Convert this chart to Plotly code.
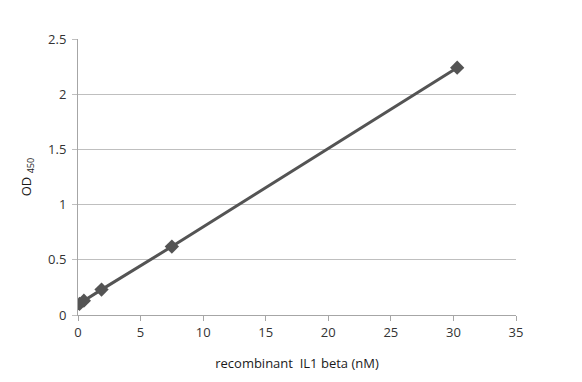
import plotly.graph_objects as go

conc_nM = [0.12, 0.47, 1.88, 7.5, 30.3]
od450 = [0.10, 0.13, 0.23, 0.62, 2.24]
x_ticks = [0, 5, 10, 15, 20, 25, 30, 35]
y_ticks = [0, 0.5, 1, 1.5, 2, 2.5]
y_tick_text = ["0", "0.5", "1", "1.5", "2", "2.5"]

fig = go.Figure()
fig.add_trace(go.Scatter(
    x=conc_nM, y=od450, mode="lines+markers",
    line=dict(color="#545454", width=3),
    marker=dict(symbol="diamond", size=11, color="#545454"),
    showlegend=False,
))

# page body has an 8px default margin, so the figure is sized/offset to compensate
font = dict(family="Open Sans, DejaVu Sans, sans-serif", size=13, color="#333333")
fig.update_layout(
    width=574, height=374,
    margin=dict(l=70, r=66, t=31, b=67),
    paper_bgcolor="white", plot_bgcolor="white",
    font=font,
    xaxis=dict(
        range=[0, 35], tickvals=x_ticks, showgrid=False, automargin=False,
        showline=True, linecolor="#a6a6a6", linewidth=1,
        ticks="outside", ticklen=5, tickcolor="#a6a6a6",
        zeroline=False,
        title=dict(text="recombinant &nbsp;IL1 beta (nM)", standoff=19, font=dict(size=13, color="#1a1a1a")),
    ),
    yaxis=dict(
        range=[0, 2.5], tickvals=y_ticks, ticktext=y_tick_text, automargin=False,
        showgrid=True, gridcolor="#bfbfbf", gridwidth=1,
        showline=True, linecolor="#a6a6a6", linewidth=1,
        zeroline=False, ticks="outside", ticklen=5, tickcolor="#bfbfbf",
        ticklabelstandoff=3,
        title=dict(text="OD <sub>450</sub>", standoff=13, font=dict(size=13, color="#1a1a1a")),
    ),
)
fig.write_html("out.html")
